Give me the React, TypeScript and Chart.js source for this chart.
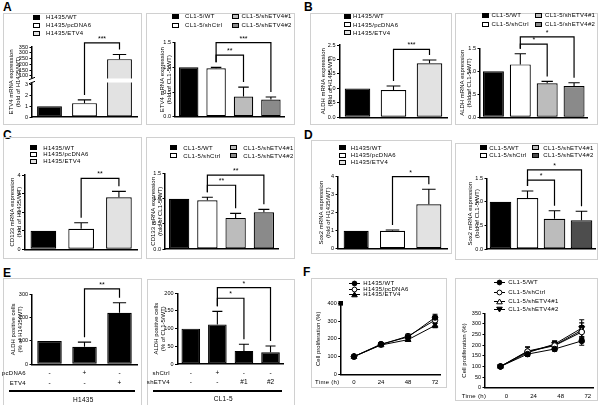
import React, { useEffect, useRef } from 'react';
import { Chart, registerables } from 'chart.js';

Chart.register(...registerables);

const FONT = '"Liberation Sans", Arial, Helvetica, sans-serif';
const BLACK = '#000000';
const WHITE = '#ffffff';
const PALE = '#e2e2e2';
const LIGHT = '#bcbcbc';
const MID = '#8a8a8a';
const DARK = '#4d4d4d';
const FRAME = '#d0d0d0';

// ---------------- data ----------------
const H_GROUPS = ['H1435/WT', 'H1435/pcDNA6', 'H1435/ETV4'];
const CL_GROUPS = ['CL1-5/WT', 'CL1-5/shCtrl', 'CL1-5/shETV4#1', 'CL1-5/shETV4#2'];
const H_COLORS = [BLACK, WHITE, PALE];
const CL_COLORS = [BLACK, WHITE, LIGHT, MID];
const CL_COLORS_D = [BLACK, WHITE, LIGHT, DARK];

// A  ETV4 mRNA
const A1_VALUES = [1.0, 1.3, 245];
const A1_ERRORS = [0, 0.3, 40];
const A1_LOW_TICKS = [0, 1, 2, 3];
const A1_HIGH_TICKS = [100, 150, 200, 250, 300, 350];
const A2_VALUES = [1.0, 0.98, 0.41, 0.35];
const A2_ERRORS = [0, 0.02, 0.19, 0.05];
// B  ALDH mRNA
const B1_VALUES = [1.0, 0.94, 1.87];
const B1_ERRORS = [0, 0.14, 0.11];
const B2_VALUES = [1.0, 1.15, 0.74, 0.68];
const B2_ERRORS = [0, 0.23, 0.04, 0.07];
// C  CD133 mRNA
const C1_VALUES = [1.0, 1.1, 2.8];
const C1_ERRORS = [0, 0.33, 0.32];
const C2_VALUES = [1.0, 0.97, 0.62, 0.73];
const C2_ERRORS = [0, 0.06, 0.09, 0.06];
// D  Sox2 mRNA
const D1_VALUES = [1.0, 1.0, 2.47];
const D1_ERRORS = [0, 0.04, 0.83];
const D2_VALUES = [1.0, 1.08, 0.64, 0.61];
const D2_ERRORS = [0, 0.15, 0.17, 0.19];
// E  ALDH positive cells
const E1_VALUES = [100, 75, 221];
const E1_ERRORS = [0, 20, 43];
const E1_PCDNA6 = ['-', '+', '-'];
const E1_ETV4 = ['-', '-', '+'];
const E2_VALUES = [100, 112, 37, 33];
const E2_ERRORS = [0, 37, 19, 18];
const E2_SHCTRL = ['-', '+', '-', '-'];
const E2_SHETV4 = ['-', '-', '#1', '#2'];

const FOLD15_TICKS = [0, 0.5, 1, 1.5];
const FOLD25_TICKS = [0, 0.5, 1, 1.5, 2, 2.5];
const FOLD4_TICKS = [0, 1, 2, 3, 4];
const E1_TICKS = [0, 100, 200, 300];
const E2_TICKS = [0, 50, 100, 150, 200];

// F  cell proliferation
const F_TIMES = [0, 24, 48, 72];
const F1_NAMES = ['H1435/WT', 'H1435/pcDNA6', 'H1435/ETV4'];
const F1_WT = [100, 170, 210, 320];
const F1_WT_ERR = [4, 8, 12, 18];
const F1_PC = [100, 167, 215, 305];
const F1_PC_ERR = [4, 8, 12, 15];
const F1_ETV4 = [100, 165, 195, 275];
const F1_ETV4_ERR = [4, 8, 10, 12];
const F1_Y_TICKS = [0, 100, 200, 300, 400];
const F2_NAMES = ['CL1-5/WT', 'CL1-5/shCtrl', 'CL1-5/shETV4#1', 'CL1-5/shETV4#2'];
const F2_WT = [100, 158, 182, 220];
const F2_WT_ERR = [4, 10, 10, 20];
const F2_SHCTRL = [100, 170, 198, 262];
const F2_SHCTRL_ERR = [4, 22, 20, 30];
const F2_SH1 = [100, 172, 200, 270];
const F2_SH1_ERR = [4, 18, 20, 35];
const F2_SH2 = [100, 165, 205, 280];
const F2_SH2_ERR = [4, 15, 15, 40];
const F2_Y_TICKS = [0, 50, 100, 150, 200, 250, 300, 350];

// significance brackets (category indices, bracket level in axis units)
type Sig = { a: number; b: number; y: number; label: string; axis?: string };
const A1_SIG: Sig[] = [{ a: 1, b: 2, y: 385, label: '***', axis: 'yHigh' }];
const A2_SIG: Sig[] = [{ a: 1, b: 2, y: 1.25, label: '**' }, { a: 1, b: 3, y: 1.5, label: '***' }];
const B1_SIG: Sig[] = [{ a: 1, b: 2, y: 2.35, label: '***' }];
const B2_SIG: Sig[] = [{ a: 1, b: 2, y: 1.59, label: '*' }, { a: 1, b: 3, y: 1.75, label: '*' }];
const C1_SIG: Sig[] = [{ a: 1, b: 2, y: 3.82, label: '**' }];
const C2_SIG: Sig[] = [{ a: 1, b: 2, y: 1.27, label: '**' }, { a: 1, b: 3, y: 1.47, label: '**' }];
const D1_SIG: Sig[] = [{ a: 1, b: 2, y: 4.0, label: '*' }];
const D2_SIG: Sig[] = [{ a: 1, b: 2, y: 1.46, label: '*' }, { a: 1, b: 3, y: 1.68, label: '*' }];
const E1_SIG: Sig[] = [{ a: 1, b: 2, y: 323, label: '**' }];
const E2_SIG: Sig[] = [{ a: 1, b: 2, y: 186, label: '*' }, { a: 1, b: 3, y: 216, label: '*' }];

// ---------------- layout ----------------
type Box = { x: number; y: number; w: number; h: number };
type Area = { l: number; t: number; r: number; b: number };

const pad = (b: Box, a: Area) => ({ left: 0, top: a.t - b.y, right: b.x + b.w - a.r, bottom: 0 });

// ---------------- plugins ----------------
function errBarPlugin() {
  const draw = (chart: any, both: boolean) => {
    const ctx = chart.ctx;
    chart.data.datasets.forEach((ds: any, di: number) => {
      if (!ds.errors || !!ds.errBoth !== both) return;
      const meta = chart.getDatasetMeta(di);
      const ys = chart.scales[meta.yAxisID];
      ctx.save();
      ctx.strokeStyle = BLACK;
      ctx.lineWidth = 1.1;
      meta.data.forEach((el: any, i: number) => {
        const raw = ds.data[i];
        const v = raw == null ? null : typeof raw === 'object' ? raw.y : raw;
        const e = ds.errors[i];
        if (v == null || !e) return;
        const top = ys.getPixelForValue(v + e);
        const bottom = both ? ys.getPixelForValue(v - e) : el.y;
        const half = both ? 2.5 : Math.max(2, el.width * 0.27);
        ctx.beginPath();
        ctx.moveTo(el.x, bottom);
        ctx.lineTo(el.x, top);
        ctx.moveTo(el.x - half, top);
        ctx.lineTo(el.x + half, top);
        if (both) {
          ctx.moveTo(el.x - half, bottom);
          ctx.lineTo(el.x + half, bottom);
        }
        ctx.stroke();
      });
      ctx.restore();
    });
  };
  return {
    id: 'errBars',
    beforeDatasetsDraw: (c: any) => draw(c, true),
    afterDatasetsDraw: (c: any) => draw(c, false),
  };
}

function sigPlugin(items: Sig[]) {
  return {
    id: 'sig',
    afterDraw(chart: any) {
      const ctx = chart.ctx;
      const xs = chart.scales.x;
      const topOf = (i: number) => {
        let best = Infinity;
        chart.data.datasets.forEach((ds: any, di: number) => {
          const v = ds.data[i];
          if (v == null) return;
          const ys = chart.scales[chart.getDatasetMeta(di).yAxisID];
          best = Math.min(best, ys.getPixelForValue(v + ((ds.errors && ds.errors[i]) || 0)));
        });
        return best;
      };
      ctx.save();
      ctx.strokeStyle = BLACK;
      ctx.fillStyle = BLACK;
      ctx.lineWidth = 1.2;
      ctx.font = `7px ${FONT}`;
      ctx.textAlign = 'center';
      ctx.textBaseline = 'bottom';
      items.forEach((it) => {
        const ys = chart.scales[it.axis || 'y'];
        const yt = ys.getPixelForValue(it.y);
        const xa = xs.getPixelForValue(it.a);
        const xb = xs.getPixelForValue(it.b);
        ctx.beginPath();
        ctx.moveTo(xa, topOf(it.a) - 5);
        ctx.lineTo(xa, yt);
        ctx.lineTo(xb, yt);
        ctx.lineTo(xb, topOf(it.b) - 5);
        ctx.stroke();
        ctx.fillText(it.label, (xa + xb) / 2, yt - 0.5);
      });
      ctx.restore();
    },
  };
}

function breakPlugin() {
  return {
    id: 'axisBreak',
    afterDatasetsDraw(chart: any) {
      const ctx = chart.ctx;
      const b = chart.scales.yLow.top;
      const { left, right } = chart.chartArea;
      ctx.save();
      ctx.fillStyle = WHITE;
      ctx.fillRect(left - 5, b - 2, right - left + 5, 4);
      ctx.strokeStyle = BLACK;
      ctx.lineWidth = 1;
      [b - 2, b + 2].forEach((y) => {
        ctx.beginPath();
        ctx.moveTo(left - 3, y + 1.2);
        ctx.lineTo(left + 3, y - 1.2);
        ctx.stroke();
      });
      ctx.restore();
    },
  };
}

function yTitlePlugin(lines: string[], xs: number[]) {
  return {
    id: 'yTitle',
    afterDraw(chart: any) {
      const ctx = chart.ctx;
      const { top, bottom } = chart.chartArea;
      const cy = (top + bottom) / 2;
      ctx.save();
      ctx.fillStyle = BLACK;
      ctx.font = `6px ${FONT}`;
      ctx.textAlign = 'center';
      ctx.textBaseline = 'middle';
      lines.forEach((t, i) => {
        ctx.save();
        ctx.translate(xs[i], cy);
        ctx.rotate(-Math.PI / 2);
        ctx.fillText(t, 0, 0);
        ctx.restore();
      });
      ctx.restore();
    },
  };
}

function topSquarePlugin() {
  return {
    id: 'topSquare',
    afterDraw(chart: any) {
      const { left, top } = chart.chartArea;
      chart.ctx.save();
      chart.ctx.fillStyle = BLACK;
      chart.ctx.fillRect(left - 2.3, top - 2.3, 4.6, 4.6);
      chart.ctx.restore();
    },
  };
}

// ---------------- axes ----------------
function yAxis(o: { min: number; max: number; ticks: number[]; dec: number; width: number; title?: string[]; titleX?: number; extra?: any }) {
  return {
    type: 'linear',
    position: 'left',
    min: o.min,
    max: o.max,
    afterBuildTicks: (s: any) => {
      s.ticks = o.ticks.map((v) => ({ value: v }));
    },
    afterFit: (s: any) => {
      s.width = o.width;
    },
    grid: { display: true, drawOnChartArea: false, drawTicks: true, tickLength: 2.5, tickWidth: 1.1, tickColor: BLACK },
    border: { display: true, color: BLACK, width: 1.5 },
    ticks: { color: BLACK, font: { family: FONT, size: 5.5 }, padding: 1.5, autoSkip: false, callback: (v: any) => Number(v).toFixed(o.dec) },
    title: o.title
      ? { display: true, text: o.title, color: BLACK, font: { family: FONT, size: 6, lineHeight: 1.15 }, padding: { top: (o.titleX || 0) - 3.45, bottom: 0 } }
      : { display: false },
    ...(o.extra || {}),
  };
}

function xBar(height: number, show = false, padding = 0, lh = 1.2) {
  return {
    type: 'category',
    offset: true,
    afterFit: (s: any) => {
      s.height = height;
    },
    grid: { display: false, drawTicks: false },
    border: { display: true, color: BLACK, width: 1.5 },
    ticks: { display: show, color: BLACK, font: { family: FONT, size: 6.5, lineHeight: lh }, padding, maxRotation: 0, autoSkip: false },
  };
}

function xTime(min: number, max: number, height: number, padding: number, labelOffset: number) {
  return {
    type: 'linear',
    min,
    max,
    afterBuildTicks: (s: any) => {
      s.ticks = F_TIMES.map((v) => ({ value: v }));
    },
    afterFit: (s: any) => {
      s.height = height;
    },
    grid: { display: false, drawTicks: false },
    border: { display: true, color: BLACK, width: 1.5 },
    ticks: { color: BLACK, font: { family: FONT, size: 6 }, padding, labelOffset, maxRotation: 0, autoSkip: false },
  };
}

const baseOptions = (b: Box, a: Area) => ({
  animation: false,
  responsive: false,
  maintainAspectRatio: false,
  events: [],
  layout: { padding: pad(b, a) },
  plugins: { legend: { display: false }, tooltip: { enabled: false } },
});

const barStyle = (colors: string[], pct: number) => ({
  backgroundColor: colors,
  borderColor: BLACK,
  borderWidth: 1.2,
  borderSkipped: false,
  barPercentage: pct,
  categoryPercentage: 1,
  grouped: false,
});

type BarSpec = {
  box: Box; area: Area; labels: any[]; values: number[]; errors: number[]; colors: string[];
  min: number; max: number; ticks: number[]; dec: number; title: string[]; titleX: number;
  sigs: Sig[]; pct?: number; showX?: boolean; xPad?: number; xLh?: number;
};

function cfgBar(s: BarSpec) {
  const b = s.box;
  const a = s.area;
  return {
    type: 'bar',
    data: { labels: s.labels, datasets: [{ data: s.values, errors: s.errors, ...barStyle(s.colors, s.pct || 0.71) }] },
    options: {
      ...baseOptions(b, a),
      scales: {
        x: xBar(b.y + b.h - a.b, !!s.showX, s.xPad || 0, s.xLh || 1.2),
        y: yAxis({ min: s.min, max: s.max, ticks: s.ticks, dec: s.dec, width: a.l - b.x, title: s.title, titleX: s.titleX - b.x }),
      },
    },
    plugins: [errBarPlugin(), sigPlugin(s.sigs)],
  };
}

const A1_BOX: Box = { x: 3, y: 13, w: 139, h: 112 };
const A1_AREA: Area = { l: 32, t: 47, r: 137, b: 117 };

function cfgA1() {
  const b = A1_BOX;
  const a = A1_AREA;
  const lowMax = 3.42;
  const highMin = 61;
  const boundary = 80.5;
  return {
    type: 'bar',
    data: {
      labels: H_GROUPS,
      datasets: [
        { data: A1_VALUES.map((v) => (v > lowMax ? lowMax : v)), errors: A1_VALUES.map((v, i) => (v > lowMax ? 0 : A1_ERRORS[i])), yAxisID: 'yLow', ...barStyle(H_COLORS, 0.71) },
        { data: A1_VALUES.map((v) => (v > lowMax ? v : null)), errors: A1_ERRORS, yAxisID: 'yHigh', ...barStyle(H_COLORS, 0.71) },
      ],
    },
    options: {
      ...baseOptions(b, a),
      scales: {
        x: xBar(b.y + b.h - a.b),
        yLow: yAxis({ min: 0, max: lowMax, ticks: A1_LOW_TICKS, dec: 0, width: a.l - b.x, extra: { stack: 'etv4', stackWeight: a.b - boundary } }),
        yHigh: yAxis({ min: highMin, max: 350, ticks: A1_HIGH_TICKS, dec: 0, width: a.l - b.x, extra: { stack: 'etv4', stackWeight: boundary - a.t } }),
      },
    },
    plugins: [errBarPlugin(), breakPlugin(), sigPlugin(A1_SIG), yTitlePlugin(['ETV4 mRNA expression', '(fold of H1435/WT)'], [11.7 - b.x, 18.5 - b.x])],
  };
}

type Series = { name: string; values: number[]; errors: number[]; style: string; fill: string; rot: number };

function cfgLine(box: Box, area: Area, series: Series[], yMax: number, yTicks: number[], xMin: number, xMax: number, xPad: number, xOff: number, titleX: number, square: boolean) {
  const plugins: any[] = [errBarPlugin()];
  if (square) plugins.push(topSquarePlugin());
  return {
    type: 'line',
    data: {
      datasets: series.map((s) => ({
        label: s.name,
        data: F_TIMES.map((t, i) => ({ x: t, y: s.values[i] })),
        errors: s.errors,
        errBoth: true,
        borderColor: BLACK,
        borderWidth: 1,
        pointStyle: s.style,
        pointRadius: s.style === 'circle' ? 2.8 : 3.4,
        pointBackgroundColor: s.fill,
        pointBorderColor: BLACK,
        pointBorderWidth: 1,
        pointRotation: s.rot,
        tension: 0,
        fill: false,
      })),
    },
    options: {
      ...baseOptions(box, area),
      scales: {
        x: xTime(xMin, xMax, box.y + box.h - area.b, xPad, xOff),
        y: yAxis({ min: 0, max: yMax, ticks: yTicks, dec: 0, width: area.l - box.x, title: ['Cell proliferation (%)'], titleX: titleX - box.x }),
      },
    },
    plugins,
  };
}

// ---------------- components ----------------
function ChartCanvas({ box, make }: { box: Box; make: () => any }) {
  const ref = useRef<HTMLCanvasElement>(null);
  useEffect(() => {
    const chart = new Chart(ref.current as HTMLCanvasElement, make());
    return () => chart.destroy();
  }, []);
  return (
    <canvas
      ref={ref}
      width={box.w}
      height={box.h}
      style={{ position: 'absolute', left: box.x, top: box.y, width: box.w, height: box.h }}
    />
  );
}

function Frame({ box }: { box: Box }) {
  return (
    <div
      style={{ position: 'absolute', left: box.x, top: box.y, width: box.w, height: box.h, border: `1px solid ${FRAME}`, boxSizing: 'border-box' }}
    />
  );
}

function Txt({ x, y, text, size = 6, align = 'left', bold = false, ls = 0.3 }: any) {
  const tx = align === 'left' ? '0' : align === 'center' ? '-50%' : '-100%';
  return (
    <div
      style={{
        position: 'absolute', left: x, top: y, transform: `translate(${tx}, -50%)`, fontFamily: FONT, fontSize: size,
        lineHeight: 1, whiteSpace: 'nowrap', color: BLACK, fontWeight: bold ? 700 : 400, letterSpacing: ls,
      }}
    >
      {text}
    </div>
  );
}

function SwatchLegend({ labels, colors, cols, rows }: { labels: string[]; colors: string[]; cols: { sx: number; tx: number }[]; rows: number[] }) {
  return (
    <>
      {labels.map((t, i) => {
        const c = cols[Math.floor(i / rows.length)];
        const y = rows[i % rows.length];
        return (
          <React.Fragment key={t}>
            <div style={{ position: 'absolute', left: c.sx, top: y - 2.5, width: 7, height: 5, boxSizing: 'border-box', border: `1px solid ${BLACK}`, background: colors[i] }} />
            <Txt x={c.tx} y={y} text={t} size={6} />
          </React.Fragment>
        );
      })}
    </>
  );
}

function Marker({ style, fill, rot }: { style: string; fill: string; rot: number }) {
  let shape: any;
  if (style === 'circle') shape = <circle cx={5.5} cy={3.5} r={2.4} fill={fill} stroke={BLACK} strokeWidth={1} />;
  else {
    const pts = rot === 180 ? '2.7,1.2 8.3,1.2 5.5,6' : '5.5,1 8.3,5.8 2.7,5.8';
    shape = <polygon points={pts} fill={fill} stroke={BLACK} strokeWidth={1} />;
  }
  return (
    <svg width={11} height={7} style={{ display: 'block' }}>
      <line x1={0} y1={3.5} x2={11} y2={3.5} stroke={BLACK} strokeWidth={1} />
      {shape}
    </svg>
  );
}

function LineLegend({ series, mx, tx, rows }: { series: Series[]; mx: number; tx: number; rows: number[] }) {
  return (
    <>
      {series.map((s, i) => (
        <React.Fragment key={s.name}>
          <div style={{ position: 'absolute', left: mx, top: rows[i] - 3.5 }}>
            <Marker style={s.style} fill={s.fill} rot={s.rot} />
          </div>
          <Txt x={tx} y={rows[i]} text={s.name} size={6} />
        </React.Fragment>
      ))}
    </>
  );
}

// ---------------- panel specs ----------------
const A2_BOX: Box = { x: 146, y: 13, w: 149, h: 112 };
const B1_BOX: Box = { x: 310, y: 13, w: 142, h: 112 };
const B2_BOX: Box = { x: 455, y: 13, w: 143, h: 112 };
const C1_BOX: Box = { x: 3, y: 137, w: 139, h: 122 };
const C2_BOX: Box = { x: 146, y: 137, w: 149, h: 122 };
const D1_BOX: Box = { x: 311, y: 140, w: 141, h: 114 };
const D2_BOX: Box = { x: 455, y: 143, w: 143, h: 117 };
const E1_BOX: Box = { x: 3, y: 278, w: 139, h: 130 };
const E2_BOX: Box = { x: 147, y: 279, w: 148, h: 130 };
const F1_BOX: Box = { x: 311, y: 278, w: 136, h: 110 };
const F2_BOX: Box = { x: 455, y: 278, w: 143, h: 123 };

const BAR_SPECS: BarSpec[] = [
  { box: A2_BOX, area: { l: 175, t: 42.7, r: 284.6, b: 116.7 }, labels: CL_GROUPS, values: A2_VALUES, errors: A2_ERRORS, colors: CL_COLORS, min: 0, max: 1.5, ticks: FOLD15_TICKS, dec: 1, title: ['ETV4 mRNA expression', '(fold of CL1-5/WT)'], titleX: 162.3, sigs: A2_SIG },
  { box: B1_BOX, area: { l: 339.5, t: 45, r: 447.5, b: 117.3 }, labels: H_GROUPS, values: B1_VALUES, errors: B1_ERRORS, colors: H_COLORS, min: 0, max: 2.5, ticks: FOLD25_TICKS, dec: 1, title: ['ALDH mRNA expression', '(fold of H1435/WT)'], titleX: 323.3, sigs: B1_SIG },
  { box: B2_BOX, area: { l: 480, t: 48.3, r: 587.5, b: 117.3 }, labels: CL_GROUPS, values: B2_VALUES, errors: B2_ERRORS, colors: CL_COLORS, min: 0, max: 1.5, ticks: FOLD15_TICKS, dec: 1, title: ['ALDH mRNA expression', '(fold of CL1-5/WT)'], titleX: 462.7, sigs: B2_SIG, pct: 0.78 },
  { box: C1_BOX, area: { l: 24.5, t: 175, r: 137.8, b: 249.3 }, labels: H_GROUPS, values: C1_VALUES, errors: C1_ERRORS, colors: H_COLORS, min: 0, max: 4, ticks: FOLD4_TICKS, dec: 0, title: ['CD133 mRNA expression', '(fold of H1435/WT)'], titleX: 12.7, sigs: C1_SIG, pct: 0.68 },
  { box: C2_BOX, area: { l: 165, t: 173.7, r: 278, b: 249 }, labels: CL_GROUPS, values: C2_VALUES, errors: C2_ERRORS, colors: CL_COLORS, min: 0, max: 1.5, ticks: FOLD15_TICKS, dec: 1, title: ['CD133 mRNA expression', '(fold of CL1-5/WT)'], titleX: 153.3, sigs: C2_SIG, pct: 0.72 },
  { box: D1_BOX, area: { l: 338, t: 176.7, r: 447, b: 248.7 }, labels: H_GROUPS, values: D1_VALUES, errors: D1_ERRORS, colors: H_COLORS, min: 0, max: 4, ticks: FOLD4_TICKS, dec: 0, title: ['Sox2 mRNA expression', '(fold of H1435/WT)'], titleX: 321.7, sigs: D1_SIG, pct: 0.69 },
  { box: D2_BOX, area: { l: 487, t: 178.3, r: 595, b: 249 }, labels: CL_GROUPS, values: D2_VALUES, errors: D2_ERRORS, colors: CL_COLORS_D, min: 0, max: 1.5, ticks: FOLD15_TICKS, dec: 1, title: ['Sox2 mRNA expression', '(fold of CL1-5/WT)'], titleX: 470, sigs: D2_SIG, pct: 0.8 },
  { box: E1_BOX, area: { l: 32, t: 294.3, r: 137, b: 364.3 }, labels: E1_PCDNA6.map((p, i) => [p, E1_ETV4[i]]), values: E1_VALUES, errors: E1_ERRORS, colors: [BLACK, BLACK, BLACK], min: 0, max: 300, ticks: E1_TICKS, dec: 0, title: ['ALDH positive cells', '(% of H1435/WT)'], titleX: 13.3, sigs: E1_SIG, pct: 0.7, showX: true, xPad: 4, xLh: 10 / 6.5 },
  { box: E2_BOX, area: { l: 177.5, t: 293.3, r: 283.8, b: 364 }, labels: E2_SHCTRL.map((p, i) => [p, E2_SHETV4[i]]), values: E2_VALUES, errors: E2_ERRORS, colors: [BLACK, BLACK, BLACK, BLACK], min: 0, max: 200, ticks: E2_TICKS, dec: 0, title: ['ALDH positive cells', '(% of CL1-5/WT)'], titleX: 156.7, sigs: E2_SIG, pct: 0.7, showX: true, xPad: 4.8, xLh: 9 / 6.5 },
];

const F1_SERIES: Series[] = [
  { name: F1_NAMES[0], values: F1_WT, errors: F1_WT_ERR, style: 'circle', fill: BLACK, rot: 0 },
  { name: F1_NAMES[1], values: F1_PC, errors: F1_PC_ERR, style: 'circle', fill: WHITE, rot: 0 },
  { name: F1_NAMES[2], values: F1_ETV4, errors: F1_ETV4_ERR, style: 'triangle', fill: BLACK, rot: 0 },
];
const F2_SERIES: Series[] = [
  { name: F2_NAMES[0], values: F2_WT, errors: F2_WT_ERR, style: 'circle', fill: BLACK, rot: 0 },
  { name: F2_NAMES[1], values: F2_SHCTRL, errors: F2_SHCTRL_ERR, style: 'circle', fill: WHITE, rot: 0 },
  { name: F2_NAMES[2], values: F2_SH1, errors: F2_SH1_ERR, style: 'triangle', fill: WHITE, rot: 0 },
  { name: F2_NAMES[3], values: F2_SH2, errors: F2_SH2_ERR, style: 'triangle', fill: BLACK, rot: 180 },
];

export default function App() {
  return (
    <div style={{ position: 'absolute', left: 0, top: 0, width: 600, height: 405, background: WHITE, overflow: 'hidden' }}>
      {/* panel letters */}
      <Txt x={3} y={7} text="A" size={12} bold ls={0} />
      <Txt x={304} y={7} text="B" size={12} bold ls={0} />
      <Txt x={3} y={135} text="C" size={12} bold ls={0} />
      <Txt x={304} y={135} text="D" size={12} bold ls={0} />
      <Txt x={3} y={273} text="E" size={12} bold ls={0} />
      <Txt x={303} y={272} text="F" size={12} bold ls={0} />

      {/* frames */}
      {[A1_BOX, ...BAR_SPECS.map((s) => s.box), F1_BOX, F2_BOX].map((b, i) => (
        <Frame key={i} box={b} />
      ))}

      {/* charts */}
      <ChartCanvas box={A1_BOX} make={cfgA1} />
      {BAR_SPECS.map((s, i) => (
        <ChartCanvas key={i} box={s.box} make={() => cfgBar(s)} />
      ))}
      <ChartCanvas
        box={F1_BOX}
        make={() => cfgLine(F1_BOX, { l: 340.7, t: 303.3, r: 440, b: 374.3 }, F1_SERIES, 400, F1_Y_TICKS, -11.8, 76.4, 4.4, 0, 318.3, true)}
      />
      <ChartCanvas
        box={F2_BOX}
        make={() => cfgLine(F2_BOX, { l: 485, t: 313.3, r: 596.7, b: 387.7 }, F2_SERIES, 350, F2_Y_TICKS, -13.7, 82, 5.4, 6, 464, false)}
      />

      {/* legends */}
      <SwatchLegend labels={H_GROUPS} colors={H_COLORS} cols={[{ sx: 33, tx: 46 }]} rows={[17, 25, 33]} />
      <SwatchLegend labels={CL_GROUPS} colors={CL_COLORS} cols={[{ sx: 172, tx: 185 }, { sx: 232, tx: 241.5 }]} rows={[16, 25]} />
      <SwatchLegend labels={H_GROUPS} colors={H_COLORS} cols={[{ sx: 343.5, tx: 353 }]} rows={[16, 24.5, 32.7]} />
      <SwatchLegend labels={CL_GROUPS} colors={CL_COLORS} cols={[{ sx: 481.5, tx: 491.5 }, { sx: 535, tx: 545 }]} rows={[15.3, 24]} />
      <SwatchLegend labels={H_GROUPS} colors={H_COLORS} cols={[{ sx: 30, tx: 43.3 }]} rows={[147.7, 154.3, 161]} />
      <SwatchLegend labels={CL_GROUPS} colors={CL_COLORS} cols={[{ sx: 170, tx: 183.3 }, { sx: 230, tx: 243.3 }]} rows={[147.7, 155.7]} />
      <SwatchLegend labels={H_GROUPS} colors={H_COLORS} cols={[{ sx: 339.3, tx: 350.7 }]} rows={[147.7, 155, 162.3]} />
      <SwatchLegend labels={CL_GROUPS} colors={CL_COLORS_D} cols={[{ sx: 480, tx: 489.3 }, { sx: 532.3, tx: 543.3 }]} rows={[147.7, 155]} />
      <LineLegend series={F1_SERIES} mx={349} tx={363.3} rows={[283.3, 289, 294.3]} />
      <LineLegend series={F2_SERIES} mx={494} tx={508.3} rows={[282.3, 292.3, 301, 309]} />

      {/* E row headers and groups */}
      <Txt x={26} y={373.3} text="pcDNA6" size={6} align="right" />
      <Txt x={26} y={383.3} text="ETV4" size={6} align="right" />
      <div style={{ position: 'absolute', left: 9, top: 389.7, width: 126, height: 2, background: BLACK }} />
      <Txt x={83.3} y={400} text="H1435" size={6.5} align="center" />
      <Txt x={170} y={373.3} text="shCtrl" size={6} align="right" />
      <Txt x={170} y={382.3} text="shETV4" size={6} align="right" />
      <div style={{ position: 'absolute', left: 153, top: 389.7, width: 129, height: 2, background: BLACK }} />
      <Txt x={223.3} y={399} text="CL1-5" size={6.5} align="center" />

      {/* F time labels */}
      <Txt x={315} y={382.3} text="Time (h)" size={6} />
      <Txt x={461.7} y={395.7} text="Time (h)" size={6} />
    </div>
  );
}
